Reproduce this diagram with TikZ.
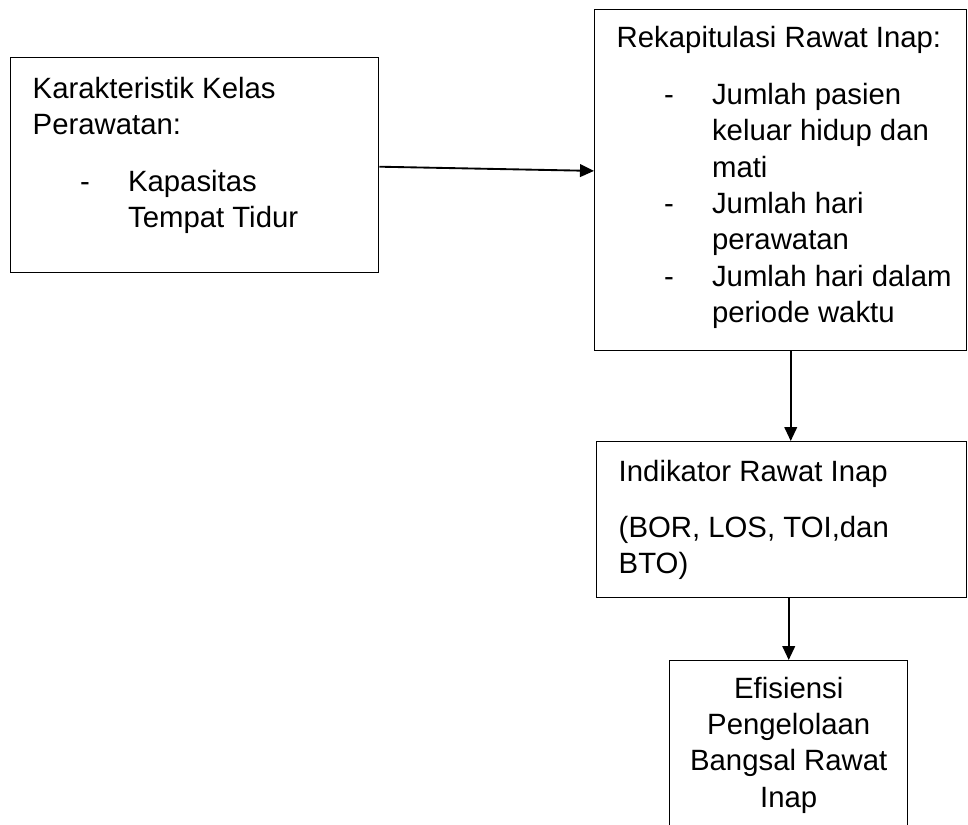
\documentclass[tikz,border=0pt]{standalone}
\usepackage{fontspec}
\setmainfont{Liberation Sans}
\usetikzlibrary{arrows.meta}

% box body: width, height, first baseline, lines
\newcommand{\boxtext}[4]{\parbox[t][#2][t]{#1}{\raggedright\leftskip=16.5pt\rule{0pt}{#3}#4}}
\newcommand{\dashln}[1]{\hspace*{35.5pt}\makebox[36pt][l]{-}#1}
\newcommand{\contln}[1]{\hspace*{71.5pt}#1}

\tikzset{
  box/.style={draw, line width=1.1pt, inner sep=0pt, anchor=north west, font=\fontsize{22pt}{27.2pt}\selectfont},
  flow/.style={line width=1.4pt, -{Triangle[length=10.5pt,width=9.5pt]}}
}

\begin{document}
\begin{tikzpicture}[x=0.75pt,y=0.75pt,yscale=-1,xscale=1]
\clip (0,0) rectangle (968,825);

%Shape: Rectangle [Karakteristik]
\node[box] (kar) at (10,57) {\boxtext{276pt}{161.25pt}{30.5pt}{Karakteristik Kelas\\ Perawatan:\\[15.5pt] \dashln{Kapasitas}\\ \contln{Tempat Tidur}}};
%Shape: Rectangle [Rekapitulasi]
\node[box] (rek) at (594,9) {\boxtext{279pt}{255.75pt}{28.5pt}{Rekapitulasi Rawat Inap:\\[15.5pt] \dashln{Jumlah pasien}\\ \contln{keluar hidup dan}\\ \contln{mati}\\ \dashln{Jumlah hari}\\ \contln{perawatan}\\ \dashln{Jumlah hari dalam}\\ \contln{periode waktu}}};
%Shape: Rectangle [Indikator]
\node[box] (ind) at (596,441) {\boxtext{277.5pt}{117pt}{29.75pt}{Indikator Rawat Inap\\[15pt] (BOR, LOS, TOI,dan\\ BTO)}};
%Shape: Rectangle [Efisiensi] (runs past the bottom edge)
\node[box] (efi) at (669,660) {\parbox[t][132pt][t]{178.5pt}{\centering\rule{0pt}{28.25pt}Efisiensi\\ Pengelolaan\\ Bangsal Rawat\\ Inap}};

%Arrows
\draw[flow] ([yshift=1.1pt]kar.east) -- ([yshift=-7pt]rek.west);
\draw[flow] ([xshift=7.5pt]rek.south) -- ([xshift=7.5pt]rek.south |- ind.north);
\draw[flow] (ind.south -| efi.north) -- (efi.north);

\end{tikzpicture}
\end{document}
